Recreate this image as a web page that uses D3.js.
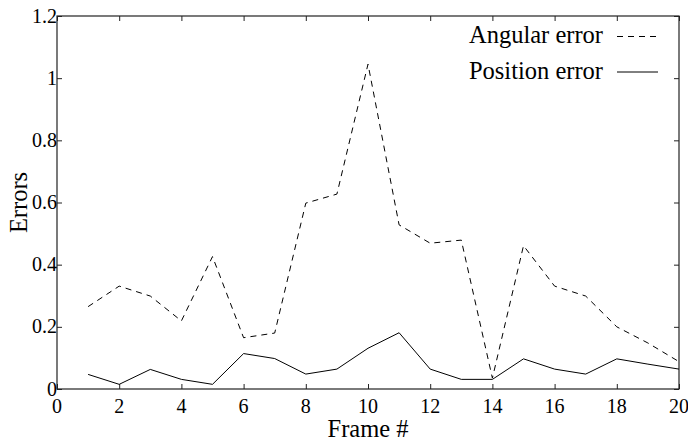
<!DOCTYPE html>
<html>
<head>
<meta charset="utf-8">
<script src="https://cdn.jsdelivr.net/npm/d3@7"></script>
<style>
  body { margin: 0; background: #fff; }
  text { font-family: "Liberation Serif", "Times New Roman", serif; fill: #000; }
</style>
</head>
<body>
<script>
// data
var frames = [1, 2, 3, 4, 5, 6, 7, 8, 9, 10, 11, 12, 13, 14, 15, 16, 17, 18, 19, 20];
var angularError = [0.265, 0.331, 0.299, 0.219, 0.426, 0.165, 0.180, 0.598, 0.627, 1.045,
                    0.528, 0.469, 0.479, 0.035, 0.461, 0.331, 0.299, 0.200, 0.148, 0.088];
var positionError = [0.047, 0.015, 0.063, 0.031, 0.015, 0.114, 0.098, 0.048, 0.064, 0.131,
                     0.181, 0.064, 0.031, 0.031, 0.097, 0.064, 0.048, 0.097, 0.080, 0.064];
var xTicks = [0, 2, 4, 6, 8, 10, 12, 14, 16, 18, 20];
var yTicks = [0, 0.2, 0.4, 0.6, 0.8, 1, 1.2];
var seriesNames = ["Angular error", "Position error"];

function drawChart(){
    var width = 688, height = 441;
    // plot box (window.top is reserved, so use own names)
    var plotLeft = 57, plotRight = 679, plotTop = 16, plotBottom = 389;
    var tickLen = 5;

    var svg = d3.select("body").append("svg")
        .attr("width", width)
        .attr("height", height);

    var x = d3.scaleLinear().domain([0, 20]).range([plotLeft, plotRight]);
    var y = d3.scaleLinear().domain([0, 1.2]).range([plotBottom, plotTop]);

    // ticks pointing inward on all four sides
    svg.append("g").attr("transform", "translate(0," + plotBottom + ")")
        .call(d3.axisTop(x).tickValues(xTicks).tickSize(tickLen).tickFormat(""));
    svg.append("g").attr("transform", "translate(0," + plotTop + ")")
        .call(d3.axisBottom(x).tickValues(xTicks).tickSize(tickLen).tickFormat(""));
    svg.append("g").attr("transform", "translate(" + plotLeft + ",0)")
        .call(d3.axisRight(y).tickValues(yTicks).tickSize(tickLen).tickFormat(""));
    svg.append("g").attr("transform", "translate(" + plotRight + ",0)")
        .call(d3.axisLeft(y).tickValues(yTicks).tickSize(tickLen).tickFormat(""));
    svg.selectAll(".domain").remove();
    svg.selectAll(".tick line").attr("stroke", "#222").attr("stroke-width", 1);

    // frame
    svg.append("rect")
        .attr("x", plotLeft).attr("y", plotTop)
        .attr("width", plotRight - plotLeft).attr("height", plotBottom - plotTop)
        .attr("fill", "none").attr("stroke", "#222").attr("stroke-width", 1.2);

    // tick labels
    svg.selectAll(".xlab").data(xTicks).enter().append("text")
        .attr("class", "xlab")
        .attr("x", function(d){ return x(d); })
        .attr("y", plotBottom + 24)
        .attr("text-anchor", "middle")
        .style("font-size", "20px")
        .text(function(d){ return d; });

    svg.selectAll(".ylab").data(yTicks).enter().append("text")
        .attr("class", "ylab")
        .attr("x", plotLeft)
        .attr("y", function(d){ return y(d) + 6.5; })
        .attr("text-anchor", "end")
        .style("font-size", "20px")
        .text(function(d){ return +d.toFixed(1); });

    // axis titles
    svg.append("text")
        .attr("x", (plotLeft + plotRight) / 2).attr("y", 437)
        .attr("text-anchor", "middle")
        .style("font-size", "24.5px")
        .text("Frame #");

    svg.append("text")
        .attr("transform", "translate(27," + ((plotTop + plotBottom) / 2) + ") rotate(-90)")
        .attr("text-anchor", "middle")
        .style("font-size", "24.5px")
        .text("Errors");

    // lines
    var line = d3.line()
        .x(function(d, i){ return x(frames[i]); })
        .y(function(d){ return y(d); });

    svg.append("path").datum(angularError)
        .attr("d", line)
        .attr("fill", "none").attr("stroke", "#000").attr("stroke-width", 1)
        .attr("stroke-dasharray", "6,5");

    svg.append("path").datum(positionError)
        .attr("d", line)
        .attr("fill", "none").attr("stroke", "#000").attr("stroke-width", 1);

    // legend
    var legend = svg.append("g");
    legend.selectAll("text").data(seriesNames).enter().append("text")
        .attr("x", 603)
        .attr("y", function(d, i){ return 43 + i * 36; })
        .attr("text-anchor", "end")
        .style("font-size", "24.5px")
        .text(function(d){ return d; });
    legend.selectAll("line").data(seriesNames).enter().append("line")
        .attr("x1", 617).attr("x2", 658)
        .attr("y1", function(d, i){ return 36.5 + i * 35.5; })
        .attr("y2", function(d, i){ return 36.5 + i * 35.5; })
        .attr("stroke", "#000").attr("stroke-width", 1)
        .attr("stroke-dasharray", function(d, i){ return i == 0 ? "6,5" : null; });
}

drawChart();
</script>
</body>
</html>
